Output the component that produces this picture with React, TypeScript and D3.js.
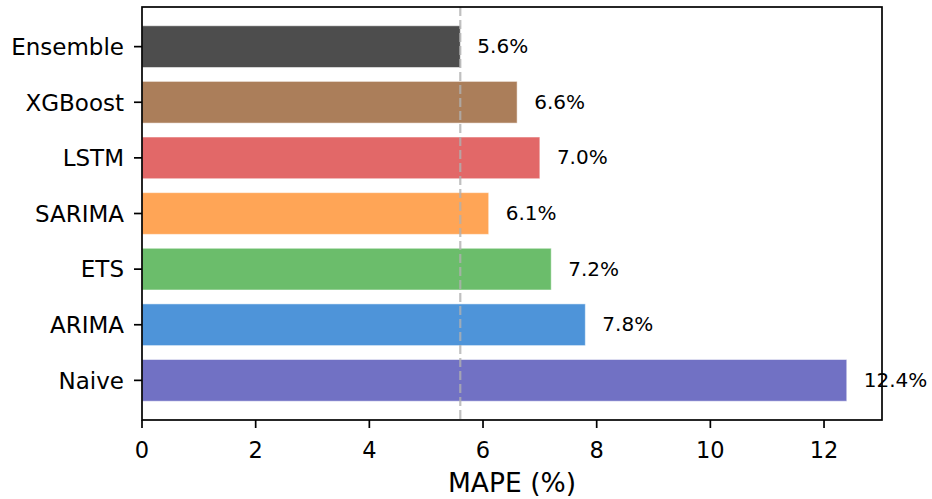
import React from "react";
import * as d3 from "d3";

const categories = ["Naive", "ARIMA", "ETS", "SARIMA", "LSTM", "XGBoost", "Ensemble"];
const values = [12.4, 7.8, 7.2, 6.1, 7.0, 6.6, 5.6];
const colors = ["#7171c4", "#4e94d9", "#6bbd6b", "#ffa556", "#e26868", "#ab7e5a", "#4d4d4d"];
const xTicks = [0, 2, 4, 6, 8, 10, 12];
const refValue = 5.6;
const xLabel = "MAPE (%)";

const W = 932;
const H = 499;
const margin = { left: 142, right: 50, top: 7, bottom: 79 };

export default function App() {
  const x = d3.scaleLinear().domain([0, 13.02]).range([margin.left, W - margin.right]);
  const y = d3
    .scaleLinear()
    .domain([-0.7125, 6.7125])
    .range([H - margin.bottom, margin.top]);
  const bh = Math.abs(y(0.375) - y(-0.375));
  const font = "DejaVu Sans, sans-serif";
  const x0 = margin.left;
  const x1 = W - margin.right;
  const y0 = margin.top;
  const y1 = H - margin.bottom;
  return (
    <svg width={W} height={H} style={{ position: "absolute", left: 0, top: 0 }} fontFamily={font}>
      <rect x={0} y={0} width={W} height={H} fill="white" />
      {categories.map((c, i) => (
        <rect
          key={c}
          x={x(0)}
          y={y(i) - bh / 2}
          width={x(values[i]) - x(0)}
          height={bh}
          fill={colors[i]}
          stroke="white"
          strokeOpacity={0.5}
          strokeWidth={1}
        />
      ))}
      <line
        x1={x(refValue)}
        x2={x(refValue)}
        y1={y0}
        y2={y1}
        stroke="#b0b0b0"
        strokeOpacity={0.8}
        strokeWidth={2.2}
        strokeDasharray="9,4"
      />
      {categories.map((c, i) => (
        <text
          key={"v" + c}
          x={x(values[i] + 0.3)}
          y={y(i)}
          dy="0.33em"
          fontSize={20}
          fill="black"
        >
          {values[i].toFixed(1) + "%"}
        </text>
      ))}
      <rect x={x0} y={y0} width={x1 - x0} height={y1 - y0} fill="none" stroke="black" strokeWidth={1.7} />
      {categories.map((c, i) => (
        <g key={"t" + c}>
          <line x1={x0 - 8} x2={x0} y1={y(i)} y2={y(i)} stroke="black" strokeWidth={1.7} />
          <text x={x0 - 18} y={y(i)} dy="0.36em" textAnchor="end" fontSize={23}>
            {c}
          </text>
        </g>
      ))}
      {xTicks.map((t) => (
        <g key={"x" + t}>
          <line x1={x(t)} x2={x(t)} y1={y1} y2={y1 + 8} stroke="black" strokeWidth={1.7} />
          <text x={x(t)} y={y1 + 38} textAnchor="middle" fontSize={22.5}>
            {t}
          </text>
        </g>
      ))}
      <text x={(x0 + x1) / 2} y={492} textAnchor="middle" fontSize={26.5}>
        {xLabel}
      </text>
    </svg>
  );
}
